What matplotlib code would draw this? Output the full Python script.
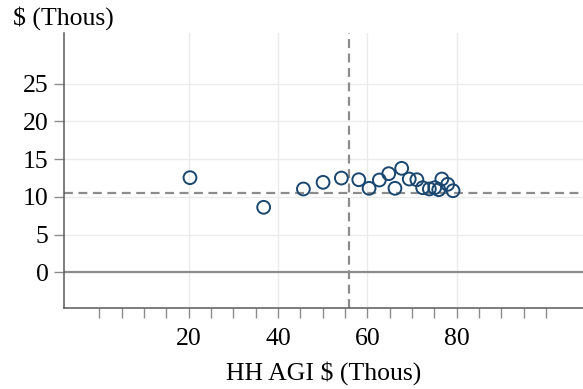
import numpy as np
import matplotlib.pyplot as plt
from matplotlib.ticker import FixedLocator

# household AGI ($ thous) vs amount ($ thous)
agi = [20.3, 36.8, 45.7, 50.1, 54.2, 58.1, 60.4, 62.7, 64.8, 66.2,
       67.7, 69.4, 71.1, 72.4, 73.9, 75.1, 76.0, 76.7, 78.0, 79.2]
amount = [12.55, 8.62, 11.05, 11.93, 12.5, 12.28, 11.14, 12.24, 13.08, 11.14,
          13.79, 12.37, 12.28, 11.22, 11.05, 11.22, 10.96, 12.37, 11.67, 10.82]
mean_agi = 55.9
mean_amount = 10.48

x_ticks = [20, 40, 60, 80]
x_minor = list(range(0, 101, 5))
y_ticks = [0, 5, 10, 15, 20, 25]

plt.rcParams['font.family'] = ['Liberation Serif', 'DejaVu Serif']
plt.rcParams['font.size'] = 18.5

fig = plt.figure(figsize=(5.83, 3.89), dpi=100)
ax = fig.add_axes([0.1098, 0.2075, 0.8902, 0.707])

ax.set_xlim(-7.9, 108.3)
ax.set_ylim(-4.77, 31.7)

ax.set_xticks(x_ticks)
ax.xaxis.set_minor_locator(FixedLocator(x_minor))
ax.set_yticks(y_ticks)

ax.grid(True, which='major', color='#ebebeb', linewidth=1)
ax.set_axisbelow(True)

ax.axhline(0, color='#8c8c8c', linewidth=1.6, zorder=1)
ax.axhline(mean_amount, color='#8c8c8c', linewidth=1.6, linestyle=(0, (4, 2.5)), zorder=2)
ax.axvline(mean_agi, color='#8c8c8c', linewidth=1.6, linestyle=(0, (4, 2.5)), zorder=2)

ax.scatter(agi, amount, s=85, facecolors='none', edgecolors='#1a476f', linewidths=1.4, zorder=3)

for s in ['top', 'right']:
    ax.spines[s].set_visible(False)
for s in ['left', 'bottom']:
    ax.spines[s].set_color('#5a5a5a')
    ax.spines[s].set_linewidth(1.1)

ax.tick_params(which='both', color='#8c8c8c', width=1, length=7)
ax.tick_params(axis='x', which='major', pad=7)
ax.tick_params(axis='y', pad=4)

ax.set_xlabel('HH AGI $ (Thous)', labelpad=8)
fig.text(13 / 583, 1 - 25 / 389, '$ (Thous)', ha='left', va='baseline')

fig.savefig('out.png', dpi=100)
